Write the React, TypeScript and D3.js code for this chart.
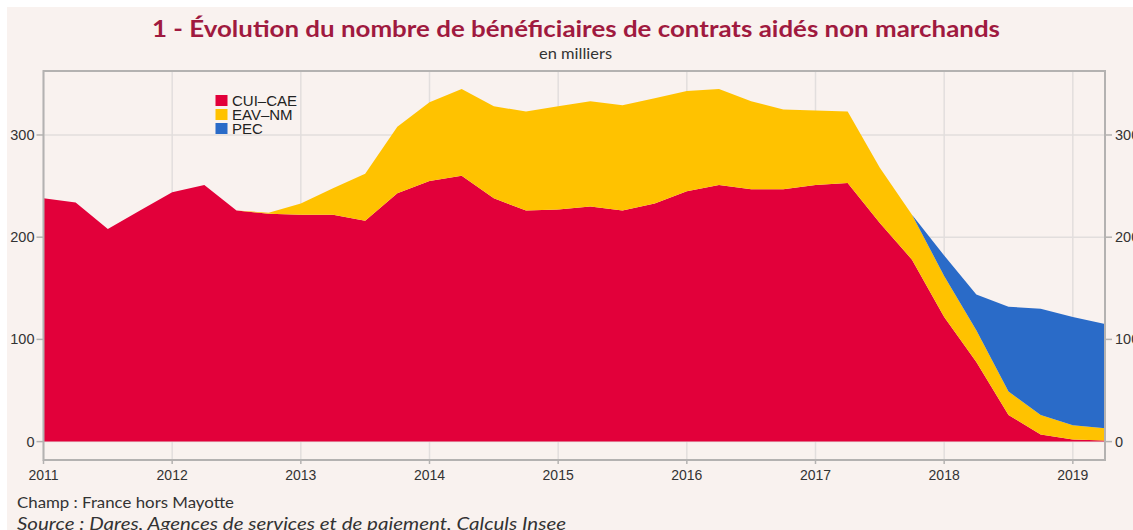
import * as d3 from 'd3';

const W = 1133;
const H = 530;
const MARGIN = { top: 71, right: 28, bottom: 70, left: 43.5 };

// quarterly points, Q1 2011 .. Q2 2019
const quarters = d3.range(34).map((i) => 2011 + i * 0.25);
const cuiCae = [
  238, 234, 208, 226, 244, 251, 226, 223, 222, 222, 216, 243, 255, 260, 238, 226,
  227, 230, 226, 233, 245, 251, 247, 247, 251, 253, 214, 178, 122, 78, 26, 7, 2, 1,
];
const eavNm = [
  0, 0, 0, 0, 0, 0, 0, 1, 11, 26, 46, 65, 77, 85, 90, 97,
  101, 103, 103, 103, 98, 94, 86, 78, 73, 70, 54, 44, 40, 31, 23, 19, 14, 12,
];
const pec = [
  0, 0, 0, 0, 0, 0, 0, 0, 0, 0, 0, 0, 0, 0, 0, 0,
  0, 0, 0, 0, 0, 0, 0, 0, 0, 0, 0, 0, 20, 35, 83, 104, 106, 102,
];
const seriesNames = ['CUI–CAE', 'EAV–NM', 'PEC'];
const colors = ['#e2003a', '#ffc200', '#2a6bc8'];
const xTicks = [2011, 2012, 2013, 2014, 2015, 2016, 2017, 2018, 2019];
const yTicks = [0, 100, 200, 300];

const TITLE = '1 - Évolution du nombre de bénéficiaires de contrats aidés non marchands';

type Row = { q: number; [k: string]: number };

export default function App() {
  const x0 = MARGIN.left;
  const x1 = W - MARGIN.right;
  const y0 = MARGIN.top;
  const y1 = H - MARGIN.bottom;

  const xScale = d3.scaleLinear().domain([2011, 2019.25]).range([x0, x1]);
  const yScale = d3.scaleLinear().domain([-18, 362.6]).range([y1, y0]);

  const rows: Row[] = quarters.map((q, i) => ({
    q,
    [seriesNames[0]]: cuiCae[i],
    [seriesNames[1]]: eavNm[i],
    [seriesNames[2]]: pec[i],
  }));
  const stacked = d3.stack<Row>().keys(seriesNames)(rows);

  const area = d3
    .area<d3.SeriesPoint<Row>>()
    .x((d) => xScale(d.data.q))
    .y0((d) => yScale(d[0]))
    .y1((d) => yScale(d[1]));

  const axisFont = '"Liberation Sans", Arial, sans-serif';
  const textFont = 'Lato, "Open Sans", sans-serif';
  const gridColor = '#e2dedd';
  const frameColor = '#b4b2b1';

  return (
    <svg
      width={W}
      height={H}
      style={{ position: 'absolute', left: 0, top: 0, display: 'block' }}
    >
      <rect x={0} y={0} width={W} height={H} fill='#ffffff' />
      <rect x={7} y={7} width={W - 7} height={H - 7} fill='#f9f2ef' />

      <text
        x={152}
        y={37}
        fontFamily={textFont}
        fontWeight={700}
        fontSize={22}
        fill='#a01a3f'
        textLength={848}
        lengthAdjust='spacingAndGlyphs'
      >
        {TITLE}
      </text>
      <text
        x={539}
        y={59}
        fontFamily={textFont}
        fontSize={14.5}
        fill='#333'
        textLength={73}
        lengthAdjust='spacingAndGlyphs'
      >
        en milliers
      </text>

      {/* grid */}
      {xTicks.map((t) => (
        <line
          key={'gx' + t}
          x1={xScale(t)}
          x2={xScale(t)}
          y1={y0}
          y2={y1}
          stroke={gridColor}
          strokeWidth={1.5}
        />
      ))}
      {yTicks.map((t) => (
        <line
          key={'gy' + t}
          x1={x0}
          x2={x1}
          y1={yScale(t)}
          y2={yScale(t)}
          stroke={gridColor}
          strokeWidth={1.5}
        />
      ))}

      {/* stacked areas */}
      {stacked.map((s, i) => (
        <path key={s.key} d={area(s) || ''} fill={colors[i]} stroke='none' />
      ))}

      {/* frame */}
      <rect
        x={x0}
        y={y0}
        width={x1 - x0}
        height={y1 - y0}
        fill='none'
        stroke={frameColor}
        strokeWidth={2}
      />

      {/* left + right y axes */}
      {yTicks.map((t) => (
        <g key={'ty' + t}>
          <line x1={x0 - 7} x2={x0} y1={yScale(t)} y2={yScale(t)} stroke={frameColor} strokeWidth={1.5} />
          <text
            x={x0 - 9}
            y={yScale(t) + 5}
            textAnchor='end'
            fontFamily={axisFont}
            fontSize={14.5}
            fill='#333'
          >
            {t}
          </text>
          <line x1={x1} x2={x1 + 7} y1={yScale(t)} y2={yScale(t)} stroke={frameColor} strokeWidth={1.5} />
          <text x={x1 + 10} y={yScale(t) + 5} fontFamily={axisFont} fontSize={14.5} fill='#333'>
            {t}
          </text>
        </g>
      ))}

      {/* x axis */}
      {xTicks.map((t) => (
        <g key={'tx' + t}>
          <line x1={xScale(t)} x2={xScale(t)} y1={y1} y2={y1 + 4} stroke={frameColor} strokeWidth={1.5} />
          <text
            x={xScale(t)}
            y={y1 + 19.5}
            textAnchor='middle'
            fontFamily={axisFont}
            fontSize={14}
            fill='#333'
          >
            {t}
          </text>
        </g>
      ))}

      {/* legend */}
      {seriesNames.map((n, i) => (
        <g key={'lg' + n} transform={`translate(215.5,${95 + i * 14})`}>
          <rect x={0} y={0} width={12} height={11} fill={colors[i]} />
          <text x={16.5} y={11} fontFamily={axisFont} fontSize={15} fill='#222'>
            {n}
          </text>
        </g>
      ))}

      {/* notes */}
      <text
        x={17}
        y={508}
        fontFamily={textFont}
        fontSize={16}
        fill='#333'
        textLength={217}
        lengthAdjust='spacingAndGlyphs'
      >
        Champ : France hors Mayotte
      </text>
      <text
        x={17}
        y={530}
        fontFamily={textFont}
        fontStyle='italic'
        fontSize={18}
        fill='#333'
        textLength={549}
        lengthAdjust='spacingAndGlyphs'
      >
        Source : Dares, Agences de services et de paiement, Calculs Insee
      </text>
    </svg>
  );
}
